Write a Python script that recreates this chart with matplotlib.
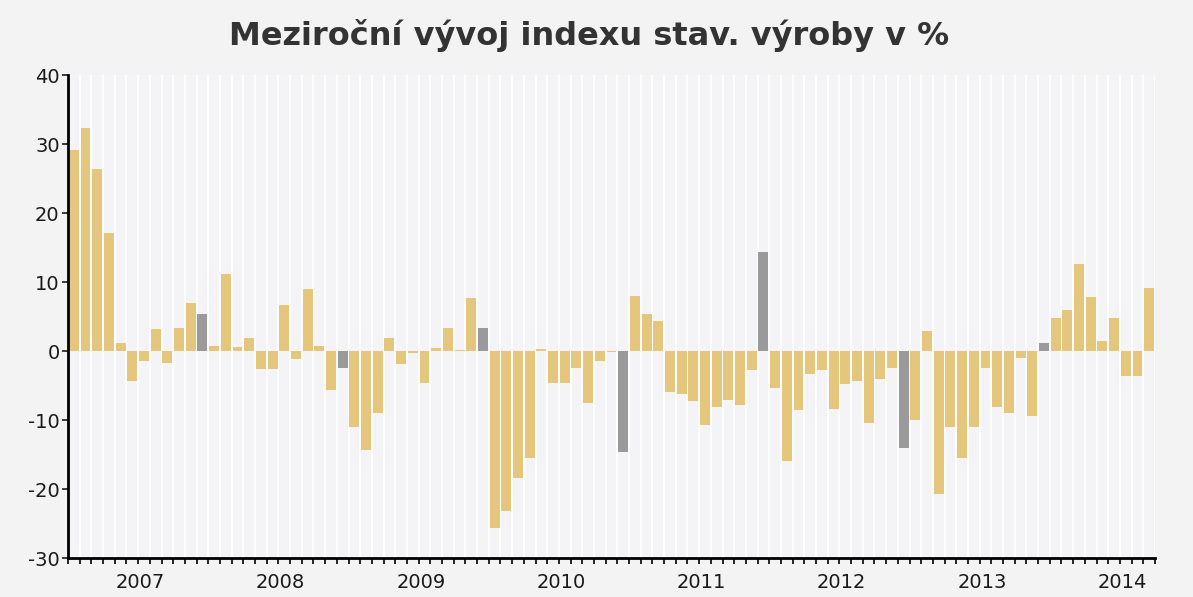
import matplotlib.pyplot as plt
import numpy as np

# meziroční změna indexu stavební výroby, měsíčně od 1/2007 do 9/2014
years = ['2007', '2008', '2009', '2010', '2011', '2012', '2013', '2014']
values = [
    29.1, 32.3, 26.4, 17.1, 1.2, -4.3, -1.5, 3.2, -1.7, 3.3, 7.0, 5.4,          # 2007
    0.7, 11.2, 0.6, 1.9, -2.6, -2.6, 6.6, -1.2, 9.0, 0.7, -5.7, -2.4,          # 2008
    -11.0, -14.4, -9.0, 1.9, -1.9, -0.3, -4.6, 0.4, 3.4, 0.2, 7.7, 3.4,        # 2009
    -25.6, -23.2, -18.4, -15.5, 0.3, -4.6, -4.6, -2.4, -7.5, -1.4, -0.2, -14.7,  # 2010
    8.0, 5.4, 4.4, -6.0, -6.3, -7.2, -10.7, -8.1, -7.1, -7.8, -2.8, 14.4,      # 2011
    -5.3, -16.0, -8.6, -3.3, -2.8, -8.4, -4.8, -4.3, -10.5, -4.0, -2.5, -14.0,  # 2012
    -10.0, 2.9, -20.7, -11.0, -15.5, -11.0, -2.5, -8.1, -9.0, -1.0, -9.4, 1.2,  # 2013
    4.8, 6.0, 12.6, 7.8, 1.4, 4.8, -3.6, -3.6, 9.2,                            # 2014
]

x = np.arange(len(values))
# prosinec je šedě
colors = ['#9a9a9a' if i % 12 == 11 else '#e4c67c' for i in x]

fig = plt.figure(figsize=(11.93, 5.97), dpi=100, facecolor='#f3f3f3')
ax = fig.add_axes([68 / 1193, 1 - 558 / 597, (1155 - 68) / 1193, (558 - 75) / 597])
ax.set_facecolor('#f4f4f7')

# svislé světlé pruhy pro každý měsíc
for i in range(len(values) + 1):
    ax.axvline(i - 0.5, color='white', lw=1.2, zorder=0)

ax.bar(x, values, width=0.85, color=colors, zorder=2)

ax.set_xlim(-0.45, 92.5)
ax.set_ylim(-30, 40)
ax.set_yticks([-30, -20, -10, 0, 10, 20, 30, 40])
ax.set_yticklabels(['-30', '-20', '-10', '0', '10', '20', '30', '40'])

ax.set_xticks(np.arange(len(values) + 1) - 0.5, minor=True)
ax.set_xticks([12 * k + 5.7 for k in range(len(years))])
ax.set_xticklabels(years)
ax.tick_params(axis='x', which='major', length=0, pad=11, labelsize=14, colors='#1a1a1a')
ax.tick_params(axis='x', which='minor', length=4, width=1.2, color='black')
ax.tick_params(axis='y', length=4, width=1.2, labelsize=14, pad=2, colors='#1a1a1a')

for s in ['top', 'right']:
    ax.spines[s].set_visible(False)
ax.spines['left'].set_linewidth(2)
ax.spines['bottom'].set_linewidth(2)

fig.text(589 / 1193, 1 - 35 / 597, 'Meziroční vývoj indexu stav. výroby v %',
         ha='center', va='center', fontsize=23, fontweight='bold', color='#333333')

fig.savefig('out.png', dpi=100, facecolor=fig.get_facecolor())
